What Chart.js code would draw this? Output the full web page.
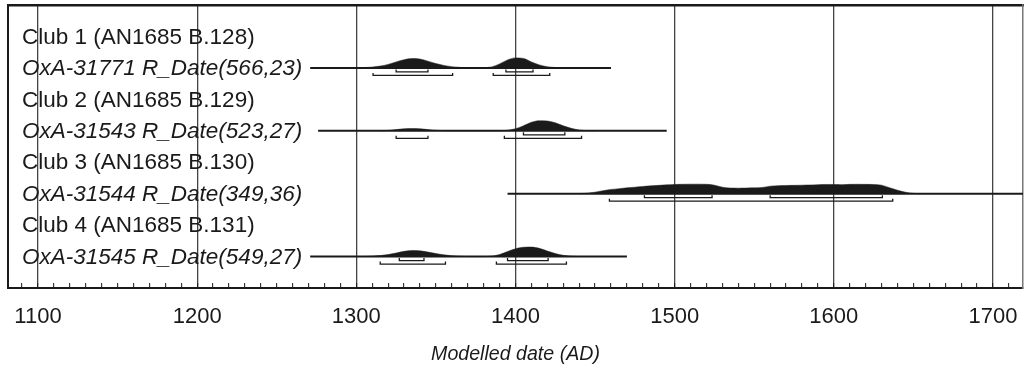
<!DOCTYPE html>
<html>
<head>
<meta charset="utf-8">
<script src="https://cdn.jsdelivr.net/npm/chart.js@4.4.0/dist/chart.umd.min.js"></script>
<style>
html,body{margin:0;padding:0;background:#fff;}
#wrap{width:1024px;height:370px;position:relative;}
</style>
</head>
<body>
<div id="wrap"><canvas id="c"></canvas></div>
<script>
// ---- data ----
const rowLabels = [
  "Club 1 (AN1685 B.128)",
  "OxA-31771 R_Date(566,23)",
  "Club 2 (AN1685 B.129)",
  "OxA-31543 R_Date(523,27)",
  "Club 3 (AN1685 B.130)",
  "OxA-31544 R_Date(349,36)",
  "Club 4 (AN1685 B.131)",
  "OxA-31545 R_Date(549,27)"
];
const italicRows = [false, true, false, true, false, true, false, true];

const xTicksMajor = [1100, 1200, 1300, 1400, 1500, 1600, 1700];

// sample 1 : OxA-31771
const years1 = [1300,1305,1310,1315,1320,1325,1330,1335,1340,1345,1350,1355,1360,1365,1370,1375,1380,1385,1390,1395,1400,1405,1410,1415,1420,1425,1430];
const dens1  = [0,0.03,0.08,0.18,0.35,0.6,0.82,0.93,0.88,0.67,0.43,0.25,0.12,0.05,0.02,0,0.02,0.1,0.4,0.8,1.0,0.95,0.6,0.3,0.12,0.04,0];
const range1 = [1271, 1460];
const sig1_1 = [[1325,1345],[1394,1411]];
const sig2_1 = [[1310.5,1360.5],[1386,1421.5]];

// sample 2 : OxA-31543
const years2 = [1315,1320,1325,1330,1335,1340,1345,1350,1355,1360,1390,1395,1400,1405,1410,1415,1420,1425,1430,1435,1440,1445,1450];
const dens2  = [0,0.04,0.12,0.2,0.23,0.2,0.12,0.05,0.01,0,0,0.06,0.2,0.5,0.85,1.0,0.98,0.8,0.5,0.25,0.08,0.02,0];
const range2 = [1276, 1495];
const sig1_2 = [[1405,1431]];
const sig2_2 = [[1325,1345],[1393,1441.5]];

// sample 3 : OxA-31544
const years3 = [1440,1445,1450,1455,1460,1465,1470,1475,1480,1485,1490,1495,1500,1505,1510,1515,1520,1525,1530,1535,1540,1545,1550,1555,1560,1565,1570,1575,1580,1585,1590,1595,1600,1605,1610,1615,1620,1625,1630,1635,1640,1645,1650,1655];
const dens3  = [0,0.05,0.15,0.3,0.42,0.5,0.58,0.65,0.72,0.78,0.83,0.88,0.92,0.94,0.95,0.95,0.94,0.85,0.65,0.56,0.55,0.56,0.58,0.62,0.75,0.8,0.82,0.83,0.85,0.87,0.9,0.92,0.92,0.9,0.93,0.94,0.93,0.92,0.85,0.6,0.35,0.15,0.03,0];
const range3 = [1395, 1720];
const sig1_3 = [[1481,1523.5],[1560,1630.5]];
const sig2_3 = [[1459,1637]];

// sample 4 : OxA-31545
const years4 = [1305,1310,1315,1320,1325,1330,1335,1340,1345,1350,1355,1360,1365,1370,1380,1385,1390,1395,1400,1405,1410,1415,1420,1425,1430,1435,1440];
const dens4  = [0,0.04,0.1,0.2,0.35,0.52,0.6,0.57,0.45,0.3,0.17,0.08,0.03,0,0,0.04,0.2,0.5,0.78,0.93,0.95,0.82,0.55,0.3,0.12,0.04,0];
const range4 = [1271, 1470];
const sig1_4 = [[1327,1342.5],[1395,1420.5]];
const sig2_4 = [[1315,1356],[1388,1432]];

// ---- build datasets ----
const samples = [
  {years: years1, dens: dens1, range: range1, s1: sig1_1, s2: sig2_1},
  {years: years2, dens: dens2, range: range2, s1: sig1_2, s2: sig2_2},
  {years: years3, dens: dens3, range: range3, s1: sig1_3, s2: sig2_3},
  {years: years4, dens: dens4, range: range4, s1: sig1_4, s2: sig2_4}
];
const ROWS = 9;            // y units (label rows) spanning the plot
const PX = 283 / ROWS;     // approx px per unit, for small offsets
const peakUnits = 10 / PX;
const ink = '#1a1a1a';

function brackets(list, y, tick) {
  const pts = [];
  list.forEach(([s, e]) => {
    pts.push({x: s, y: y - tick}, {x: s, y: y}, {x: e, y: y}, {x: e, y: y - tick}, {x: e, y: null});
  });
  return pts;
}

const datasets = [];
samples.forEach((s, k) => {
  const base = 2 * k + 2;
  datasets.push({
    data: s.years.map((yr, i) => ({x: yr, y: base - s.dens[i] * peakUnits})),
    borderColor: ink, borderWidth: 0.5, backgroundColor: ink,
    fill: {value: base}, pointRadius: 0, cubicInterpolationMode: 'monotone'
  });
  datasets.push({
    data: [{x: s.range[0], y: base}, {x: s.range[1], y: base}],
    borderColor: ink, borderWidth: 2, pointRadius: 0, fill: false
  });
  datasets.push({
    data: brackets(s.s1, base + 4 / PX, 2.5 / PX),
    borderColor: ink, borderWidth: 1.3, pointRadius: 0, fill: false, spanGaps: false
  });
  datasets.push({
    data: brackets(s.s2, base + 7.5 / PX, 2.5 / PX),
    borderColor: ink, borderWidth: 1.3, pointRadius: 0, fill: false, spanGaps: false
  });
});

const labelPlugin = {
  id: 'rowLabels',
  afterDatasetsDraw(chart) {
    const {ctx, chartArea, scales} = chart;
    ctx.save();
    ctx.fillStyle = '#1a1a1a';
    ctx.textBaseline = 'middle';
    ctx.textAlign = 'left';
    rowLabels.forEach((t, i) => {
      ctx.font = (italicRows[i] ? 'italic ' : '') + '22.5px "Liberation Sans", Arial, sans-serif';
      ctx.fillText(t, chartArea.left + 14, scales.y.getPixelForValue(i + 1) + 1);
    });
    ctx.restore();
  }
};

new Chart(document.getElementById('c'), {
  type: 'line',
  data: {datasets},
  plugins: [labelPlugin],
  options: {
    responsive: true, maintainAspectRatio: false, animation: false,
    layout: {padding: {top: 5, left: 8, right: 1, bottom: 0}},
    plugins: {legend: {display: false}, tooltip: {enabled: false}},
    elements: {line: {tension: 0}},
    scales: {
      x: {
        type: 'linear', position: 'bottom', min: 1081.15, max: 1718.85,
        afterFit: s => { s.height = 82; s.paddingLeft = 0; s.paddingRight = 0; },
        border: {display: true, color: '#1a1a1a', width: 2},
        grid: {
          color: c => (c.tick && c.tick.value % 100 === 0) ? '#444' : 'rgba(0,0,0,0)',
          lineWidth: 1.3, tickColor: '#1a1a1a', tickWidth: 1, tickLength: -5, drawOnChartArea: true
        },
        ticks: {
          stepSize: 10, autoSkip: false, includeBounds: false, maxRotation: 0, padding: 20.5,
          color: '#1a1a1a', font: {family: '"Liberation Sans", Arial, sans-serif', size: 22},
          callback: v => xTicksMajor.includes(v) ? String(v) : ''
        },
        title: {display: true, text: 'Modelled date (AD)', color: '#1a1a1a',
          font: {family: '"Liberation Sans", Arial, sans-serif', size: 19.6, style: 'italic'},
          padding: {top: 0, bottom: 3.5}}
      },
      x2: {
        type: 'linear', position: 'top', min: 1081.15, max: 1718.85,
        border: {display: true, color: '#1a1a1a', width: 2.5},
        grid: {display: false, drawTicks: false}, ticks: {display: false}
      },
      y: {
        type: 'linear', position: 'left', reverse: true, min: 0, max: ROWS,
        border: {display: true, color: '#1a1a1a', width: 2},
        grid: {display: false, drawTicks: false}, ticks: {display: false}
      },
      y2: {
        type: 'linear', position: 'right', min: 0, max: ROWS,
        border: {display: true, color: '#777', width: 1.5},
        grid: {display: false, drawTicks: false}, ticks: {display: false}
      }
    }
  }
});
</script>
</body>
</html>
